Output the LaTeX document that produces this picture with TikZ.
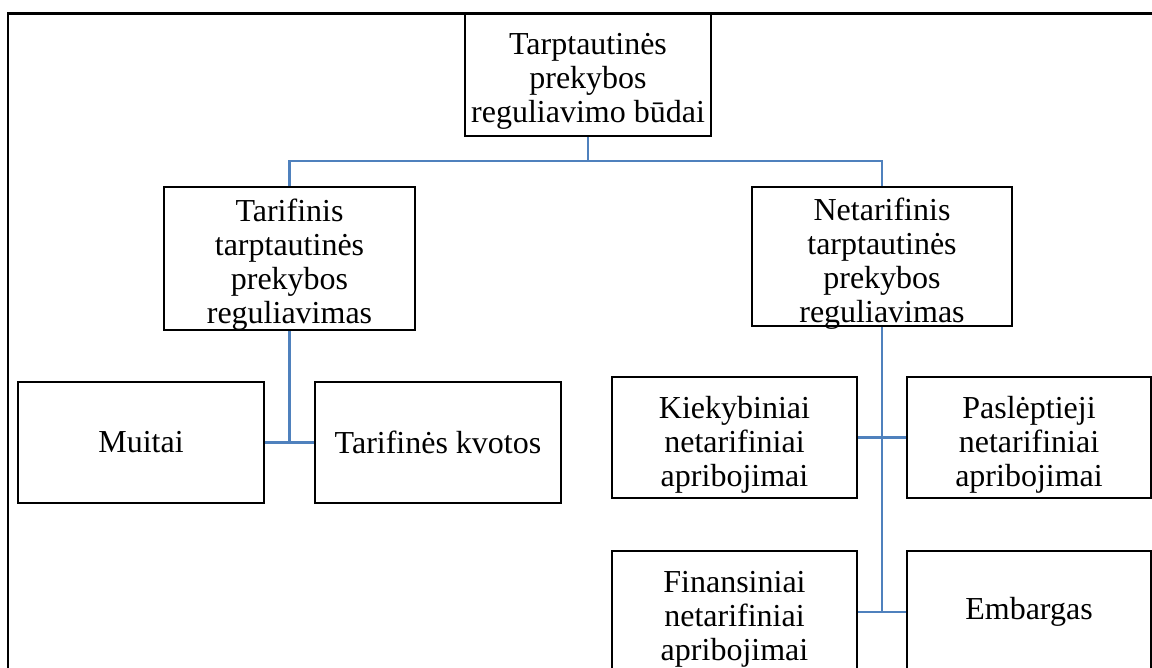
\documentclass[tikz,border=0pt]{standalone}
\usepackage{fontspec}
\setmainfont{Liberation Serif}
\definecolor{linkblue}{HTML}{4F81BD}
\begin{document}
\begin{tikzpicture}[x=0.5pt,y=-0.5pt,
  box/.style={draw=black, line width=1.25pt, fill=white, align=center, inner sep=0pt,
    font=\fontsize{16}{17}\selectfont},
  txt/.style={align=center, inner sep=0pt, font=\fontsize{16}{17}\selectfont, yshift=-3.5pt},
  link/.style={draw=linkblue, line width=1.2pt}]
\clip (0,0) rectangle (1152,668);
\fill[white] (0,0) rectangle (1152,668);
% outer frame
\draw[line width=1.1pt] (8,680) -- (8,13.5) -- (1170,13.5);
% nodes
\node[box, minimum width=123pt, minimum height=61.25pt,
  label={[txt]center:{Tarptautinės\\prekybos\\reguliavimo būdai}}] (top) at (588,74.75) {};
\node[box, minimum width=125.5pt, minimum height=71.5pt,
  label={[txt, yshift=0.5pt]center:{Tarifinis\\tarptautinės\\prekybos\\reguliavimas}}] (tar) at (289.5,258.5) {};
\node[box, minimum width=130pt, minimum height=69.5pt,
  label={[txt]center:{Netarifinis\\tarptautinės\\prekybos\\reguliavimas}}] (net) at (882,256.5) {};
\node[box, minimum width=123pt, minimum height=60.5pt] (mui) at (141,442.5) {Muitai};
\node[box, minimum width=123pt, minimum height=60.5pt] (kvo) at (438,442.5) {Tarifinės kvotos};
\node[box, minimum width=122.5pt, minimum height=60.5pt,
  label={[txt]center:{Kiekybiniai\\netarifiniai\\apribojimai}}] (kie) at (734.5,437.5) {};
\node[box, minimum width=122pt, minimum height=60.5pt,
  label={[txt]center:{Paslėptieji\\netarifiniai\\apribojimai}}] (pas) at (1029,437.5) {};
\node[box, minimum width=122.5pt, minimum height=61pt,
  label={[txt]center:{Finansiniai\\netarifiniai\\apribojimai}}] (fin) at (734.5,612) {};
\node[box, minimum width=122pt, minimum height=61pt] (emb) at (1029,612) {Embargas};
% connectors
\coordinate (bus) at (588,161);
\coordinate (busL) at (289.5,161);
\coordinate (busR) at (882,161);
\coordinate (jL) at (289.5,442.5);
\coordinate (jR2) at (882,612);
\draw[link] (top.south) -- (bus);
\draw[link] (tar.north) -- (busL) -- (busR) -- (net.north);
\draw[link] (tar.south) -- (jL);
\draw[link] (mui.east) -- (kvo.west);
\draw[link] (net.south) -- (jR2);
\draw[link] (kie.east) -- (pas.west);
\draw[link] (fin.east) -- (emb.west);
\end{tikzpicture}
\end{document}
